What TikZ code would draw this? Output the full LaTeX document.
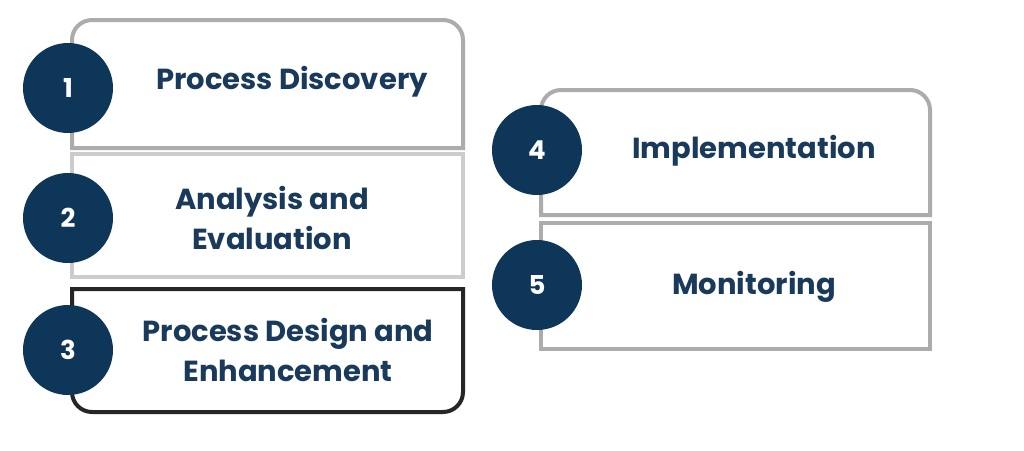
\documentclass[tikz,border=0pt]{standalone}
\usepackage{fontspec}
\setmainfont{Poppins}
\definecolor{navy}{HTML}{0E3658}
\definecolor{txt}{HTML}{1A3A5C}
\begin{document}
\begin{tikzpicture}[x=1pt,y=-1pt,
  boxg/.style={draw=gray!65,line width=4pt,fill=white},
  num/.style={circle,fill=navy,minimum size=90pt,inner sep=0pt,text=white,font=\bfseries\fontsize{26}{28}\selectfont},
  lab/.style={text=txt,font=\bfseries\fontsize{29}{40}\selectfont,align=center}]
\useasboundingbox (0,0) rectangle (1024,450);
\fill[white] (0,0) rectangle (1024,450);
% left column
\draw[boxg] (72,148) [rounded corners=20pt] -- (72,20) -- (463,20) [sharp corners] -- (463,148) -- cycle;
\draw[draw=gray!40,line width=4pt,fill=white] (72,154) rectangle (463,277);
\draw[draw=black!85,line width=4pt,fill=white] (463,289) [rounded corners=20pt] -- (463,412) -- (72,412) [sharp corners] -- (72,289) -- cycle;
% right column
\draw[boxg] (541,215) [rounded corners=20pt] -- (541,90) -- (930,90) [sharp corners] -- (930,215) -- cycle;
\draw[boxg] (541,223) rectangle (930,349);
\node[num] (c1) at (68,88) {1};
\node[num] (c2) at (68,218) {2};
\node[num] (c3) at (68,350) {3};
\node[num] (c4) at (537,150) {4};
\node[num] (c5) at (537,285) {5};
\node[lab] (t1) at (292,82) {Process Discovery};
\node[lab] (t2) at (272,218) {Analysis and\\Evaluation};
\node[lab] (t3) at (288,350) {Process Design and\\Enhancement};
\node[lab] (t4) at (754,151) {Implementation};
\node[lab] (t5) at (754,287) {Monitoring};
\end{tikzpicture}
\end{document}
